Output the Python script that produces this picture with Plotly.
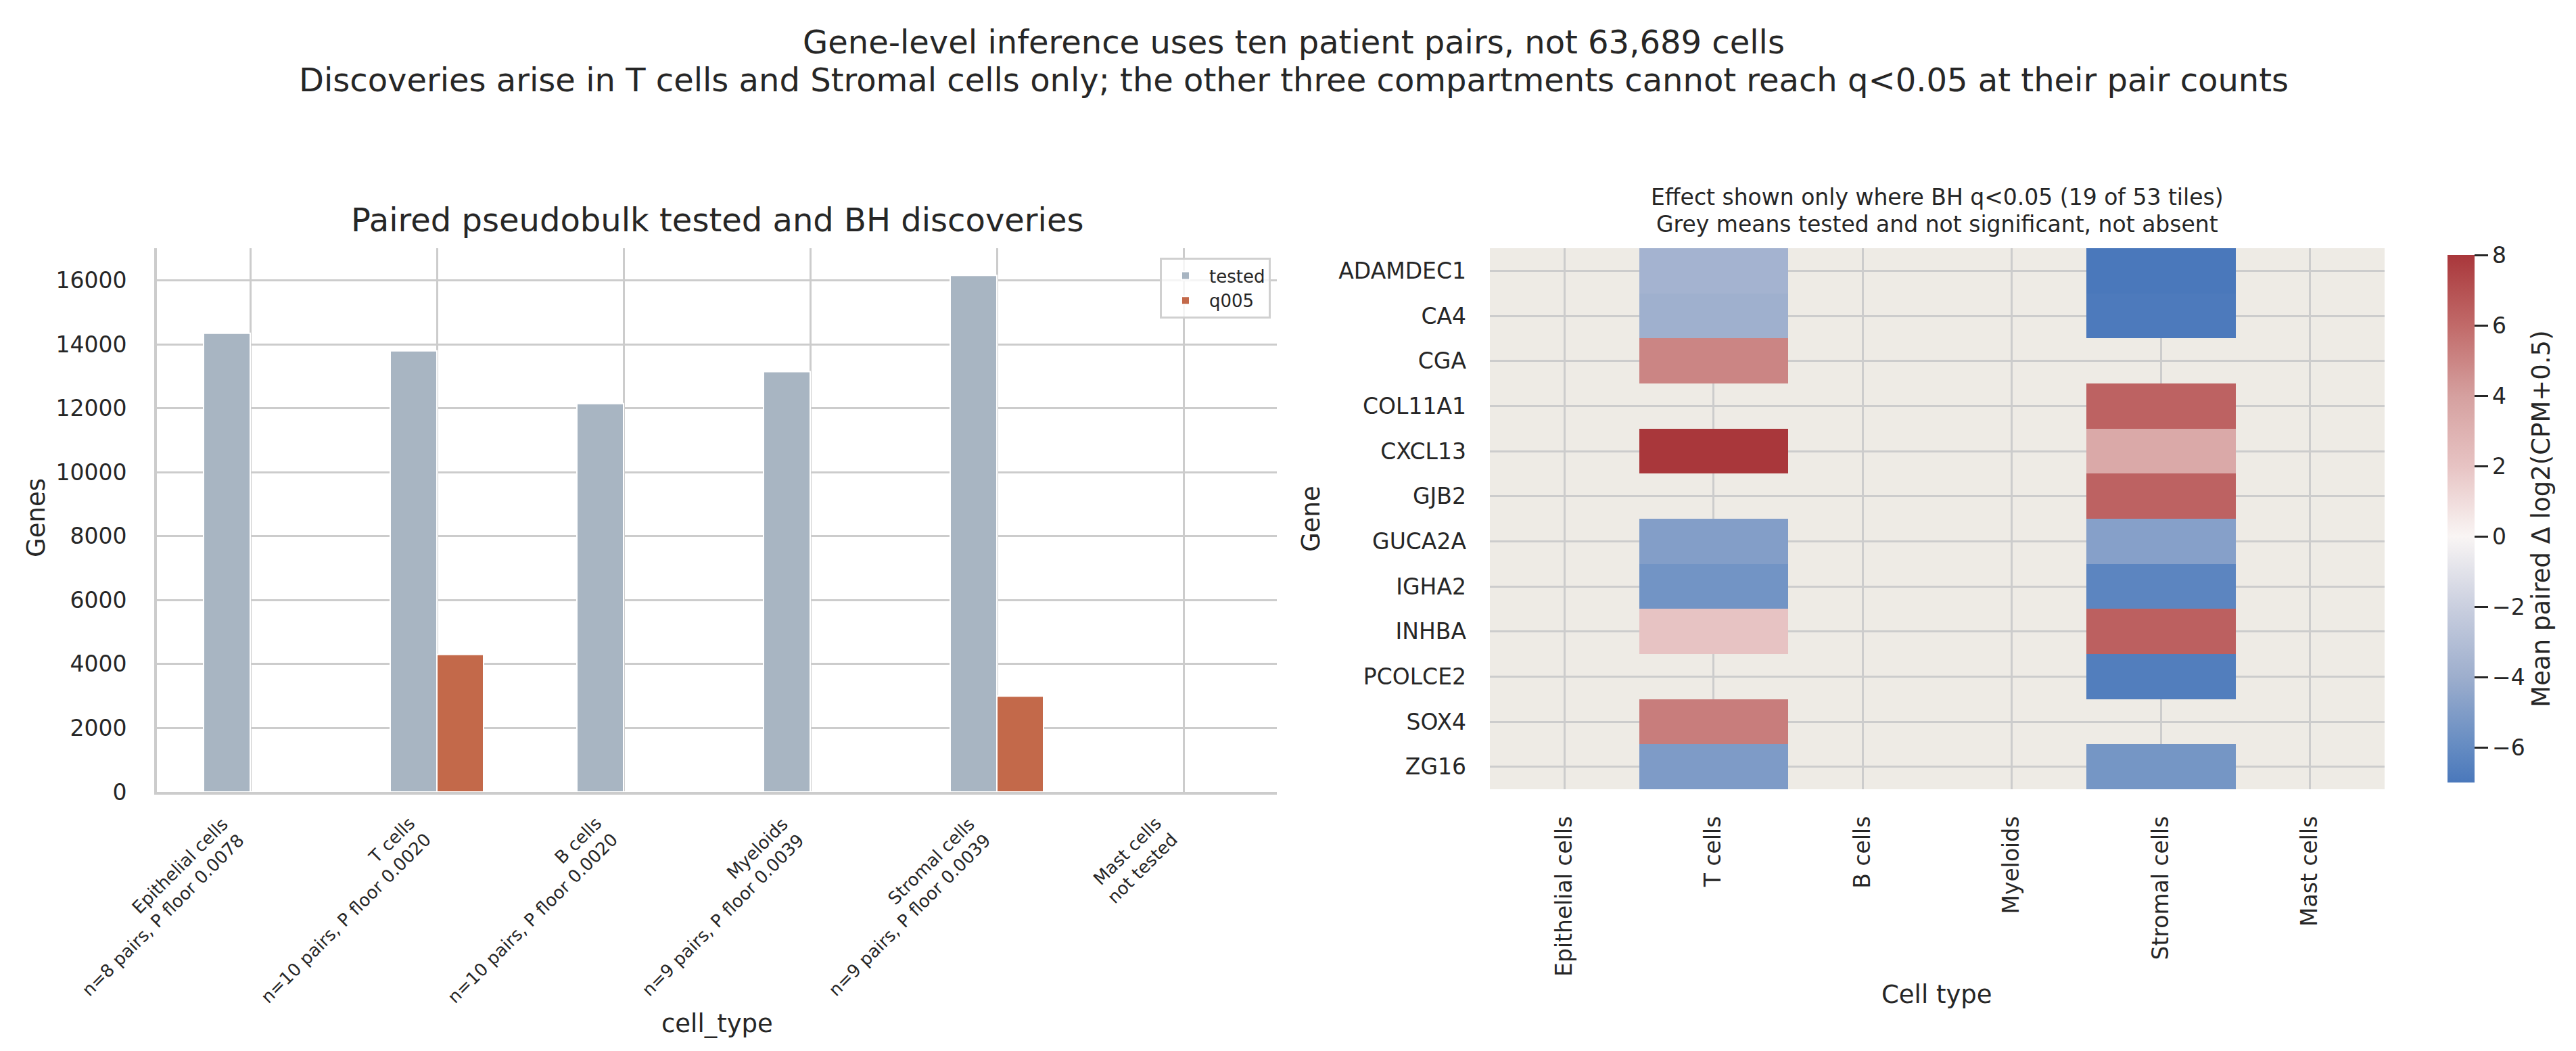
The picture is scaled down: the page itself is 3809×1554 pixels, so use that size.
import plotly.graph_objects as go
from plotly.subplots import make_subplots

# left panel: paired pseudobulk counts per compartment
cell_types = ["Epithelial cells", "T cells", "B cells", "Myeloids", "Stromal cells", "Mast cells"]
n_pairs = [8, 10, 10, 9, 9, None]
p_floor = [0.0078, 0.0020, 0.0020, 0.0039, 0.0039, None]
tested = [14350, 13800, 12150, 13150, 16160, None]
q005 = [0, 4300, 0, 0, 3000, None]

# right panel: mean paired delta where BH q<0.05 (None = tested, not significant)
genes = ["ADAMDEC1", "CA4", "CGA", "COL11A1", "CXCL13", "GJB2",
         "GUCA2A", "IGHA2", "INHBA", "PCOLCE2", "SOX4", "ZG16"]
epithelial_delta = [None] * 12
t_cells_delta = [-3.7, -3.9, 5.0, None, 8.0, None, -4.9, -5.5, 2.0, None, 5.3, -5.1]
b_cells_delta = [None] * 12
myeloids_delta = [None] * 12
stromal_delta = [-7.0, -6.9, None, 6.3, 3.5, 6.3, -4.8, -6.3, 6.4, -6.7, None, -5.4]
mast_delta = [None] * 12

zmin, zmax = -7.0, 8.0
cbar_ticks = [-6, -4, -2, 0, 2, 4, 6, 8]

INK = "#262626"
FONT = "DejaVu Sans"
W, H = 3809, 1554

tick_text = []
for ct, n, p in zip(cell_types, n_pairs, p_floor):
    if n is None:
        tick_text.append(ct + "<br>not tested")
    else:
        tick_text.append("%s<br>n=%d pairs, P floor %.4f" % (ct, n, p))

columns = [epithelial_delta, t_cells_delta, b_cells_delta,
           myeloids_delta, stromal_delta, mast_delta]
z = [[col[i] for col in columns] for i in range(len(genes))]

# vlag-like diverging scale, centred on 0 (stops given in data units)
vlag_stops = [(-7, "#4a78bb"), (-6, "#648bc2"), (-4, "#9daecd"), (-2, "#cacfdf"),
              (0, "#f9f5f4"), (2, "#e7c3c3"), (4, "#d5a09f"), (6, "#c16a69"),
              (8, "#a9373b")]
colorscale = [[(v - zmin) / (zmax - zmin), c] for v, c in vlag_stops]

fig = make_subplots(rows=1, cols=2)

fig.add_trace(go.Bar(x=cell_types, y=tested, name="tested",
                     marker=dict(color="#a8b5c2", line=dict(color="white", width=2))),
              row=1, col=1)
fig.add_trace(go.Bar(x=cell_types, y=q005, name="q005",
                     marker=dict(color="#c3694a", line=dict(color="white", width=2))),
              row=1, col=1)

fig.add_trace(go.Heatmap(
    x=cell_types, y=genes, z=z, zmin=zmin, zmax=zmax,
    colorscale=colorscale, showscale=True, hoverongaps=False,
    colorbar=dict(
        x=3601 / W, xanchor="left", y=1 - 359 / H, yanchor="top",
        len=800 / H, lenmode="fraction", thickness=40, outlinewidth=0,
        tickvals=cbar_ticks, ticks="outside", ticklen=20, tickwidth=3,
        tickcolor=INK, tickfont=dict(size=33, color=INK, family=FONT),
        title=dict(text="Mean paired Δ log2(CPM+0.5)", side="right",
                   font=dict(size=37, color=INK, family=FONT)),
    ),
), row=1, col=2)

fig.update_layout(
    width=W, height=H,
    margin=dict(l=0, r=0, t=0, b=0, autoexpand=False),
    paper_bgcolor="white", plot_bgcolor="white",
    font=dict(family=FONT, color=INK, size=33),
    barmode="group", bargap=0.5, bargroupgap=0.0,
    legend=dict(x=1871 / W, xanchor="right", y=1 - 373 / H, yanchor="top",
                bgcolor="rgba(255,255,255,0.8)", bordercolor="#d0d0d0", borderwidth=3,
                itemwidth=60, tracegroupgap=4,
                font=dict(size=26, color=INK, family=FONT)),
    xaxis=dict(domain=[224 / W, 1880 / W], range=[-0.5, 5.5], automargin=False,
               tickvals=cell_types, showticklabels=False,
               showgrid=True, gridcolor="#cccccc", gridwidth=3,
               showline=True, linecolor="#cccccc", linewidth=4, ticks=""),
    yaxis=dict(domain=[1 - 1163 / H, 1 - 359 / H], range=[0, 17010], automargin=False,
               tickvals=list(range(0, 16001, 2000)), tickformat="d",
               showgrid=True, gridcolor="#cccccc", gridwidth=3, zeroline=False,
               showline=True, linecolor="#cccccc", linewidth=4, ticks="",
               ticklabelstandoff=34),
    xaxis2=dict(domain=[2195 / W, 3518 / W], range=[-0.5, 5.5], automargin=False,
                tickangle=-90, showgrid=True, gridcolor="#cccccc", gridwidth=3,
                showline=False, ticks="", ticklabelstandoff=32),
    yaxis2=dict(domain=[1 - 1159 / H, 1 - 359 / H], range=[11.5, -0.5], automargin=False,
                showgrid=True, gridcolor="#cccccc", gridwidth=3, zeroline=False,
                showline=False, ticks="", ticklabelstandoff=34),
)

# grey background for the heatmap panel, under the gridlines
fig.add_shape(type="rect", xref="x2 domain", yref="y2 domain", x0=0, x1=1, y0=0, y1=1,
              fillcolor="#eeebe5", line=dict(width=0), layer="below")

# rotated, right-aligned category labels under the bars (matplotlib ha="right" style)
for ct, label in zip(cell_types, tick_text):
    fig.add_annotation(text=label, x=ct, xref="x", y=1 - 1192 / H, yref="paper",
                       xanchor="right", yanchor="top", align="right", textangle=-45,
                       showarrow=False, font=dict(size=26, color=INK, family=FONT))

notes = [
    ("Gene-level inference uses ten patient pairs, not 63,689 cells", 0.5, 1 - 54 / H, 48, 0),
    ("Discoveries arise in T cells and Stromal cells only; the other three compartments "
     "cannot reach q<0.05 at their pair counts", 0.5, 1 - 110 / H, 48, 0),
    ("Paired pseudobulk tested and BH discoveries", 1052 / W, 1 - 317 / H, 48, 0),
    ("Effect shown only where BH q<0.05 (19 of 53 tiles)", 2856 / W, 1 - 283 / H, 33, 0),
    ("Grey means tested and not significant, not absent", 2856 / W, 1 - 323 / H, 33, 0),
    ("Genes", 45 / W, 1 - 758 / H, 37, -90),
    ("cell_type", 1052 / W, 1 - 1505 / H, 37, 0),
    ("Gene", 1930 / W, 1 - 759 / H, 37, -90),
    ("Cell type", 2856 / W, 1 - 1462 / H, 37, 0),
]
for text, x, y, size, angle in notes:
    fig.add_annotation(text=text, x=x, y=y, xref="paper", yref="paper",
                       xanchor="center", yanchor="middle", showarrow=False,
                       textangle=angle, font=dict(size=size, color=INK, family=FONT))

fig.write_html("out.html")
